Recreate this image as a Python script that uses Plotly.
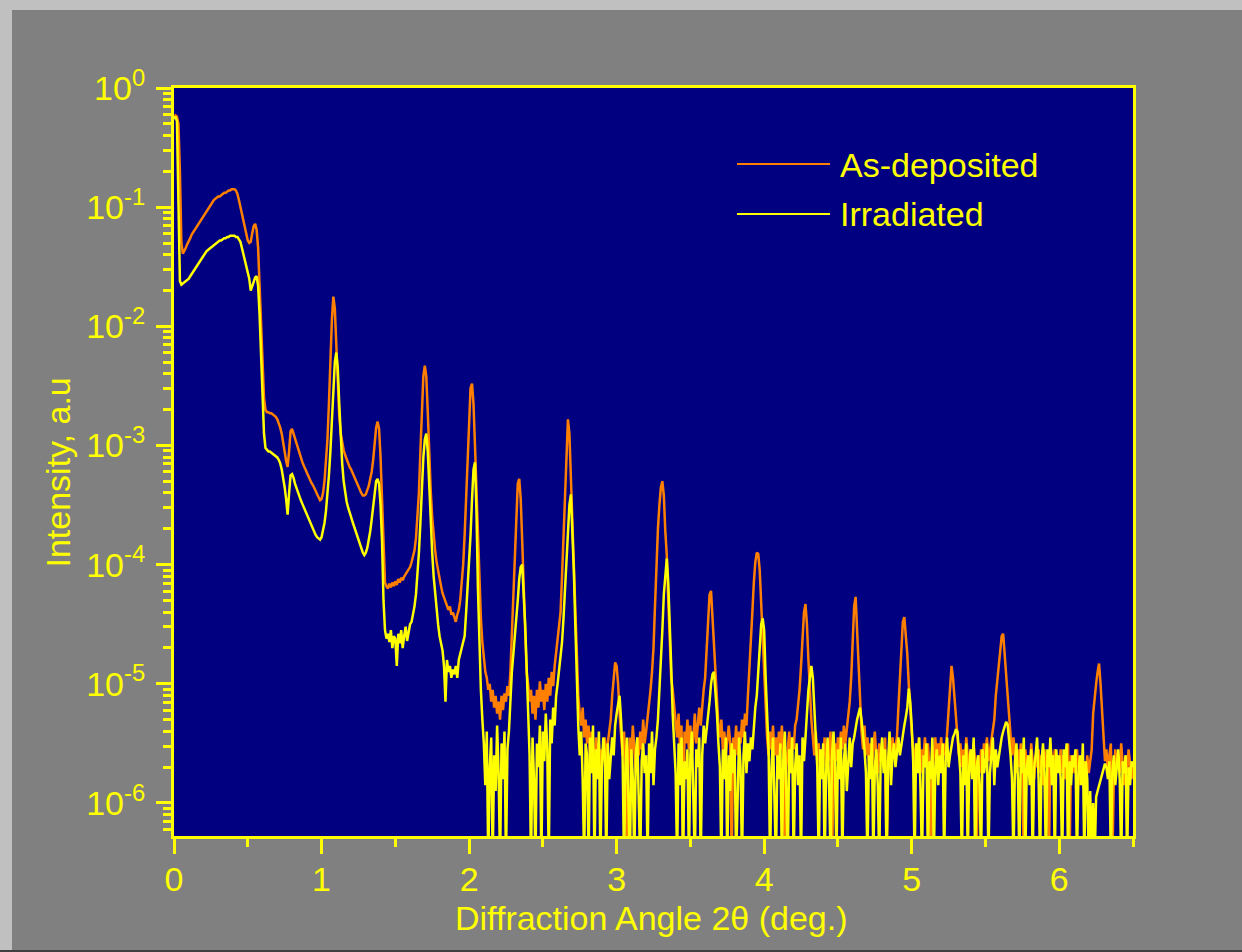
import numpy as np
import plotly.graph_objects as go

# Measurement grid (2-theta, degrees), 0.01 deg steps
two_theta = np.linspace(0.0, 6.5, 651)

# log10(intensity), one row per 0.1 deg
as_deposited_log10 = [
    -0.25, -0.23, -0.24, -0.30, -0.70, -1.30, -1.39, -1.37, -1.34, -1.31,
    -1.29, -1.26, -1.23, -1.21, -1.19, -1.17, -1.15, -1.13, -1.11, -1.09,
    -1.07, -1.05, -1.03, -1.01, -0.99, -0.97, -0.96, -0.94, -0.93, -0.92,
    -0.91, -0.91, -0.90, -0.89, -0.88, -0.88, -0.87, -0.86, -0.86, -0.85,
    -0.85, -0.85, -0.86, -0.89, -0.94, -1.00, -1.06, -1.11, -1.17, -1.22,
    -1.28, -1.30, -1.29, -1.22, -1.16, -1.14, -1.19, -1.34, -1.62, -1.95,
    -2.30, -2.60, -2.70, -2.72, -2.72, -2.73, -2.73, -2.74, -2.75, -2.76,
    -2.78, -2.81, -2.85, -2.90, -2.96, -3.05, -3.13, -3.18, -3.05, -2.88,
    -2.86, -2.90, -2.95, -2.99, -3.04, -3.08, -3.11, -3.14, -3.17, -3.20,
    -3.23, -3.26, -3.29, -3.31, -3.33, -3.35, -3.38, -3.41, -3.44, -3.46,
    -3.45, -3.40, -3.30, -3.15, -2.95, -2.65, -2.25, -1.95, -1.75, -1.85,
    -2.15, -2.50, -2.75, -2.90, -2.98, -3.04, -3.08, -3.12, -3.15, -3.18,
    -3.20, -3.23, -3.26, -3.29, -3.32, -3.35, -3.38, -3.40, -3.42, -3.42,
    -3.41, -3.38, -3.34, -3.28, -3.22, -3.12, -2.98, -2.85, -2.80, -2.86,
    -3.10, -3.50, -3.95, -4.15, -4.18, -4.20, -4.16, -4.19, -4.15, -4.18,
    -4.14, -4.17, -4.12, -4.15, -4.11, -4.13, -4.10, -4.08, -4.06, -4.04,
    -4.02, -3.98, -3.94, -3.88, -3.78, -3.62, -3.40, -3.05, -2.70, -2.42,
    -2.33, -2.42, -2.72, -3.08, -3.38, -3.60, -3.76, -3.88, -3.98, -4.06,
    -4.13, -4.18, -4.24, -4.28, -4.32, -4.36, -4.38, -4.35, -4.42, -4.40,
    -4.45, -4.48, -4.42, -4.38, -4.30, -4.18, -4.00, -3.75, -3.45, -3.05,
    -2.75, -2.52, -2.48, -2.65, -3.00, -3.40, -3.80, -4.15, -4.45, -4.65,
    -4.80, -4.90, -4.95, -5.05, -5.00, -5.15, -5.05, -5.20, -5.10, -5.25,
    -5.15, -5.30, -5.10, -5.22, -5.08, -5.15, -5.02, -5.10, -4.90, -4.60,
    -4.30, -3.90, -3.55, -3.32, -3.28, -3.45, -3.80, -4.20, -4.60, -4.90,
    -5.00, -5.15, -5.05, -5.25, -5.10, -5.30, -5.05, -5.20, -4.98, -5.15,
    -5.05, -5.22, -5.00, -5.15, -4.95, -5.10, -4.90, -5.02, -4.85, -4.75,
    -4.60, -4.50, -4.40, -4.10, -3.80, -3.40, -3.05, -2.78, -2.90, -3.30,
    -3.70, -4.10, -4.50, -4.90, -5.10, -5.25, -5.35, -5.20, -5.45, -5.30,
    -5.50, -5.35, -5.60, -5.40, -5.55, -5.70, -5.45, -5.60, -5.50, -5.75,
    -5.55, -5.65, -5.45, -5.70, -5.50, -5.40, -5.30, -5.10, -4.95, -4.82,
    -4.85, -5.00, -5.25, -5.45, -5.60, -5.40, -5.65, -6.50, -5.70, -5.45,
    -5.60, -5.35, -5.55, -5.75, -5.45, -5.60, -5.40, -5.55, -5.30, -5.50,
    -5.40, -5.30, -5.20, -5.05, -4.90, -4.70, -4.35, -3.95, -3.70, -3.50,
    -3.35, -3.30, -3.42, -3.72, -3.92, -4.30, -4.70, -4.95, -5.05, -5.20,
    -5.30, -5.45, -5.25, -5.55, -5.35, -6.50, -5.40, -5.50, -5.30, -5.55,
    -5.35, -5.60, -5.45, -5.25, -5.50, -5.30, -5.20, -5.35, -5.15, -5.05,
    -4.95, -4.75, -4.45, -4.25, -4.22, -4.45, -4.75, -5.00, -5.20, -5.35,
    -5.45, -5.30, -5.55, -5.40, -5.60, -5.45, -5.35, -5.50, -6.50, -5.45,
    -5.55, -5.35, -5.60, -5.40, -5.50, -5.30, -5.45, -5.25, -5.35, -5.10,
    -4.90, -4.65, -4.40, -4.15, -3.98, -3.90, -3.91, -4.05, -4.35, -4.70,
    -5.00, -5.30, -5.45, -5.60, -5.40, -5.55, -5.35, -5.60, -5.45, -5.65,
    -5.40, -5.55, -5.35, -5.60, -6.50, -5.70, -5.50, -5.40, -5.60, -5.45,
    -5.55, -5.35, -5.30, -5.20, -5.05, -4.85, -4.60, -4.40, -4.33, -4.50,
    -4.80, -5.10, -5.30, -5.45, -5.60, -5.40, -5.65, -5.50, -5.75, -5.55,
    -5.60, -5.45, -5.70, -5.50, -5.65, -5.40, -6.50, -5.75, -5.50, -5.65,
    -5.45, -5.60, -5.40, -5.55, -5.35, -5.50, -5.40, -5.30, -5.15, -4.95,
    -4.60, -4.35, -4.27, -4.55, -4.90, -5.20, -5.40, -5.55, -5.35, -5.60,
    -5.45, -5.65, -5.50, -5.70, -5.55, -5.40, -5.60, -5.75, -5.50, -5.65,
    -5.55, -5.70, -5.45, -6.50, -5.75, -5.50, -5.65, -5.45, -5.60, -5.50,
    -5.45, -5.20, -4.95, -4.65, -4.48, -4.44, -4.60, -4.75, -5.00, -5.25,
    -5.40, -5.55, -5.70, -5.50, -5.65, -5.45, -5.75, -5.55, -5.60, -5.45,
    -5.65, -5.50, -5.70, -6.50, -5.75, -5.60, -5.45, -5.65, -5.50, -5.60,
    -5.45, -5.65, -5.50, -5.60, -5.40, -5.15, -4.95, -4.85, -4.95, -5.10,
    -5.30, -5.45, -5.60, -5.50, -5.70, -5.55, -5.65, -5.45, -5.60, -5.75,
    -5.55, -5.70, -5.50, -5.65, -6.50, -5.60, -5.75, -5.55, -5.65, -5.50,
    -5.60, -5.45, -5.65, -5.55, -5.50, -5.40, -5.30, -5.10, -4.98, -4.85,
    -4.72, -4.60, -4.58, -4.75, -4.95, -5.15, -5.30, -5.50, -5.60, -5.45,
    -5.60, -5.75, -5.55, -5.70, -5.50, -5.65, -6.50, -5.55, -5.70, -5.60,
    -5.75, -5.50, -5.65, -5.80, -5.60, -5.70, -5.55, -5.75, -5.60, -5.85,
    -5.55, -5.70, -5.60, -6.50, -5.50, -5.65, -5.75, -5.55, -5.70, -5.60,
    -5.70, -5.55, -5.75, -5.60, -5.80, -5.65, -5.50, -6.50, -5.60, -5.75,
    -5.60, -5.75, -5.55, -5.70, -5.85, -5.60, -5.75, -5.65, -5.80, -5.60,
    -5.75, -5.65, -5.55, -5.25, -5.10, -5.00, -4.90, -4.83, -5.00, -5.25,
    -5.45, -5.65, -5.55, -5.75, -5.60, -5.50, -6.50, -5.80, -5.55, -5.70,
    -5.60, -5.75, -5.50, -5.70, -5.85, -5.60, -5.75, -5.55, -5.65, -5.80,
    -5.70,
]

irradiated_log10 = [
    -0.26, -0.24, -0.28, -1.00, -1.62, -1.65, -1.64, -1.63, -1.62, -1.61,
    -1.60, -1.58, -1.56, -1.54, -1.52, -1.50, -1.48, -1.46, -1.44, -1.42,
    -1.41, -1.39, -1.37, -1.36, -1.35, -1.34, -1.33, -1.32, -1.31, -1.30,
    -1.29, -1.28, -1.28, -1.27, -1.26, -1.26, -1.25, -1.25, -1.24, -1.24,
    -1.24, -1.24, -1.25, -1.25, -1.27, -1.29, -1.34, -1.39, -1.44, -1.49,
    -1.53, -1.60, -1.70, -1.66, -1.62, -1.59, -1.58, -1.66, -1.90, -2.30,
    -2.60, -2.90, -3.02, -3.04, -3.05, -3.05, -3.06, -3.07, -3.08, -3.09,
    -3.10, -3.12, -3.15, -3.20, -3.27, -3.35, -3.45, -3.58, -3.40, -3.25,
    -3.24, -3.27, -3.32, -3.36, -3.40, -3.43, -3.46, -3.49, -3.52, -3.55,
    -3.58, -3.60, -3.63, -3.66, -3.70, -3.72, -3.75, -3.77, -3.78, -3.79,
    -3.77, -3.72, -3.65, -3.55, -3.42, -3.25, -3.05, -2.80, -2.50, -2.30,
    -2.22, -2.35, -2.65, -2.95, -3.15, -3.30, -3.40, -3.47, -3.52, -3.57,
    -3.60, -3.64, -3.68, -3.72, -3.76, -3.80, -3.84, -3.87, -3.90, -3.92,
    -3.90, -3.86, -3.80, -3.72, -3.62, -3.50, -3.38, -3.30, -3.28, -3.32,
    -3.50, -3.80, -4.30, -4.55, -4.62, -4.58, -4.65, -4.55, -4.70, -4.60,
    -4.62, -4.85, -4.58, -4.66, -4.55, -4.70, -4.60, -4.52, -4.64, -4.55,
    -4.50, -4.48, -4.42, -4.35, -4.25, -4.10, -3.90, -3.65, -3.35, -3.10,
    -2.95, -2.90, -3.05, -3.35, -3.65, -3.90, -4.10, -4.25, -4.40, -4.50,
    -4.60, -4.65, -4.72, -4.85, -5.15, -4.80, -4.90, -4.85, -4.95, -4.88,
    -4.92, -4.85, -4.95, -4.80, -4.75, -4.70, -4.65, -4.60, -4.40, -4.20,
    -4.00, -3.75, -3.45, -3.20, -3.14, -3.55, -4.20, -4.65, -5.05, -5.30,
    -5.50, -5.85, -5.40, -6.50, -5.70, -5.45, -6.50, -5.60, -5.90, -5.35,
    -5.75, -6.50, -5.50, -5.80, -5.40, -6.50, -5.55, -5.40, -5.10, -4.90,
    -4.75, -4.62, -4.48, -4.30, -4.12, -4.02, -4.00, -4.20, -4.50, -4.85,
    -5.30, -5.60, -6.50, -5.45, -5.80, -6.50, -5.50, -5.70, -5.35, -6.50,
    -5.40, -5.65, -5.25, -5.55, -6.50, -5.30, -5.50, -5.20, -5.35, -5.10,
    -5.00, -4.90, -4.80, -4.65, -4.45, -4.20, -3.95, -3.70, -3.50, -3.41,
    -3.70, -4.05, -4.50, -5.00, -5.35, -5.60, -5.40, -5.80, -6.50, -5.50,
    -5.60, -6.50, -5.45, -5.75, -5.35, -6.50, -5.55, -5.80, -5.40, -6.50,
    -5.70, -5.45, -5.60, -6.50, -5.50, -5.80, -5.65, -5.45, -5.60, -5.35,
    -5.25, -5.15, -5.10, -5.30, -5.55, -6.50, -5.70, -5.45, -5.85, -6.50,
    -5.55, -5.80, -6.50, -5.60, -5.45, -5.90, -6.50, -5.65, -5.50, -5.75,
    -5.60, -6.50, -5.50, -5.75, -5.40, -5.85, -5.55, -5.45, -5.30, -5.05,
    -4.85, -4.55, -4.25, -4.05, -3.95, -4.15, -4.45, -4.85, -5.25, -5.55,
    -5.75, -6.50, -5.50, -5.85, -5.45, -6.50, -5.65, -5.80, -5.55, -6.50,
    -5.60, -5.40, -5.85, -6.50, -5.55, -5.70, -5.45, -6.50, -5.60, -5.35,
    -5.50, -5.40, -5.30, -5.15, -5.00, -4.92, -4.90, -5.05, -5.25, -5.50,
    -5.70, -6.50, -5.55, -5.80, -5.45, -6.50, -5.60, -5.90, -5.50, -5.75,
    -5.55, -6.50, -5.85, -5.45, -5.70, -6.50, -5.60, -5.40, -5.75, -5.50,
    -5.65, -5.45, -5.55, -5.35, -5.20, -5.10, -4.90, -4.65, -4.50, -4.45,
    -4.55, -4.95, -5.30, -5.55, -6.50, -5.70, -5.45, -5.85, -6.50, -5.60,
    -5.80, -5.50, -6.50, -5.65, -5.40, -5.90, -6.50, -5.55, -5.75, -5.45,
    -6.50, -5.70, -5.50, -5.85, -5.60, -6.50, -5.45, -5.65, -5.40, -5.25,
    -5.05, -4.95, -4.85, -4.95, -5.15, -5.45, -5.70, -6.50, -5.55, -5.80,
    -5.50, -6.50, -5.75, -5.45, -5.85, -6.50, -5.60, -5.40, -5.70, -6.50,
    -5.55, -5.80, -5.45, -6.50, -5.65, -5.50, -5.90, -5.60, -5.45, -5.70,
    -5.50, -5.45, -5.35, -5.30, -5.25, -5.20, -5.30, -5.40, -5.55, -5.75,
    -6.50, -5.60, -5.80, -5.45, -6.50, -5.70, -5.55, -5.85, -6.50, -5.60,
    -5.45, -5.75, -5.55, -6.50, -5.65, -5.40, -5.85, -5.60, -5.50, -5.70,
    -5.55, -5.45, -5.60, -5.50, -5.40, -5.35, -5.28, -5.20, -5.04, -5.15,
    -5.35, -5.65, -6.50, -5.50, -5.75, -5.45, -5.90, -6.50, -5.60, -5.70,
    -5.50, -6.50, -5.65, -5.80, -5.45, -6.50, -5.70, -5.55, -5.85, -5.60,
    -5.75, -5.50, -6.50, -5.65, -5.45, -5.70, -5.60, -5.50, -5.45, -5.42,
    -5.38, -5.40, -5.55, -5.75, -6.50, -5.60, -5.85, -5.50, -6.50, -5.70,
    -5.55, -5.80, -5.45, -6.50, -5.70, -5.60, -5.85, -6.50, -5.55, -5.75,
    -5.65, -5.50, -6.50, -5.75, -5.60, -5.45, -5.85, -5.55, -5.70, -5.60,
    -5.50, -5.45, -5.40, -5.35, -5.32, -5.34, -5.45, -5.60, -5.80, -6.50,
    -5.65, -5.50, -5.80, -6.50, -5.55, -5.75, -5.45, -6.50, -5.70, -5.60,
    -5.85, -5.55, -6.50, -5.70, -5.60, -5.45, -5.80, -6.50, -5.65, -5.50,
    -5.75, -6.50, -5.55, -5.70, -5.45, -5.85, -5.60, -6.50, -5.55, -5.75,
    -5.60, -5.80, -6.50, -5.55, -5.70, -5.50, -6.50, -5.65, -5.85, -5.60,
    -5.70, -5.55, -6.50, -5.75, -5.60, -5.85, -5.50, -6.50, -5.65, -5.80,
    -6.50, -5.90, -6.50, -6.00, -6.50, -5.95, -5.90, -5.85, -5.80, -5.75,
    -5.70, -5.67, -5.70, -5.80, -5.65, -6.50, -5.75, -5.60, -5.85, -5.70,
    -5.55, -5.80, -6.50, -5.65, -5.75, -5.60, -6.50, -5.70, -5.85, -5.65,
    -5.70,
]

assert len(as_deposited_log10) == len(two_theta)
assert len(irradiated_log10) == len(two_theta)

as_deposited = 10.0 ** np.array(as_deposited_log10)
irradiated = 10.0 ** np.array(irradiated_log10)

series_names = ["As-deposited", "Irradiated"]
series_colors = ["#FF8000", "#FFFF00"]

x_tick_vals = [0, 1, 2, 3, 4, 5, 6]
x_minor_vals = [0.5, 1.5, 2.5, 3.5, 4.5, 5.5, 6.5]
y_tick_vals = [1e-6, 1e-5, 1e-4, 1e-3, 1e-2, 1e-1, 1e0]
y_tick_text = ["10<sup>-6</sup>", "10<sup>-5</sup>", "10<sup>-4</sup>",
               "10<sup>-3</sup>", "10<sup>-2</sup>", "10<sup>-1</sup>",
               "10<sup>0</sup>"]
y_minor_vals = [m * 10.0 ** e for e in range(-7, 0) for m in range(2, 10)]

YEL = "#FFFF00"
FONT = "Liberation Sans, Arial, sans-serif"

fig = go.Figure()
for name, yv, col in [(series_names[0], as_deposited, series_colors[0]),
                      (series_names[1], irradiated, series_colors[1])]:
    fig.add_trace(go.Scatter(x=two_theta, y=yv, mode="lines", name=name,
                             line=dict(color=col, width=2.5), showlegend=False))

L, R, T, B = 174, 109, 88, 116
W, H = 1242, 952
pw, ph = W - L - R, H - T - B


def px(xp):
    return (xp - L) / pw


def py(yp):
    return (H - B - yp) / ph


shapes = [
    # window frame
    dict(type="rect", xref="paper", yref="paper", x0=px(0), x1=px(W), y0=py(0), y1=py(10),
         fillcolor="#C0C0C0", line=dict(width=0), layer="above"),
    dict(type="rect", xref="paper", yref="paper", x0=px(0), x1=px(12), y0=py(0), y1=py(H),
         fillcolor="#C0C0C0", line=dict(width=0), layer="above"),
    dict(type="rect", xref="paper", yref="paper", x0=px(0), x1=px(W), y0=py(950), y1=py(H),
         fillcolor="#404040", line=dict(width=0), layer="above"),
]
# legend samples
legend_rows = [164, 214]
for col, yy in zip(series_colors, legend_rows):
    shapes.append(dict(type="line", xref="paper", yref="paper",
                       x0=px(737), x1=px(830), y0=py(yy), y1=py(yy),
                       line=dict(color=col, width=2)))

annotations = []
for name, yy in zip(series_names, [165, 214]):
    annotations.append(dict(text=name, xref="paper", yref="paper", x=px(838), y=py(yy),
                            xanchor="left", yanchor="middle", showarrow=False,
                            font=dict(family=FONT, size=34, color=YEL)))
annotations.append(dict(text="Diffraction Angle 2\u03b8 (deg.)", xref="paper", yref="paper",
                        x=px(651.5), y=py(918), xanchor="center", yanchor="middle",
                        showarrow=False, font=dict(family=FONT, size=34, color=YEL)))
annotations.append(dict(text="Intensity, a.u", xref="paper", yref="paper",
                        x=px(57.5), y=py(473), xanchor="center", yanchor="middle",
                        textangle=-90, showarrow=False,
                        font=dict(family=FONT, size=34, color=YEL)))

fig.update_layout(
    width=W, height=H,
    margin=dict(l=L, r=R, t=T, b=B, pad=0),
    paper_bgcolor="#808080",
    plot_bgcolor="#000080",
    showlegend=False,
    font=dict(family=FONT, size=34, color=YEL),
    shapes=shapes,
    annotations=annotations,
    xaxis=dict(
        range=[0, 6.5], tickmode="array", tickvals=x_tick_vals,
        ticks="outside", ticklen=15, tickwidth=3, tickcolor=YEL,
        showline=True, linewidth=3, linecolor=YEL, mirror=True,
        showgrid=False, zeroline=False,
        tickfont=dict(family=FONT, size=34, color=YEL),
        ticklabelstandoff=-4,
        minor=dict(tickmode="array", tickvals=x_minor_vals, ticks="outside",
                   ticklen=8, tickwidth=3, tickcolor=YEL, showgrid=False),
    ),
    yaxis=dict(
        type="log", range=[-6.277, 0], tickmode="array",
        tickvals=y_tick_vals, ticktext=y_tick_text,
        ticks="outside", ticklen=15, tickwidth=3, tickcolor=YEL,
        showline=True, linewidth=3, linecolor=YEL, mirror=True,
        showgrid=False, zeroline=False,
        tickfont=dict(family=FONT, size=34, color=YEL),
        ticklabelstandoff=4,
        minor=dict(tickmode="array", tickvals=y_minor_vals, ticks="outside",
                   ticklen=8, tickwidth=3, tickcolor=YEL, showgrid=False),
    ),
)

fig.write_html(
    "out.html",
    config={"displayModeBar": False},
    post_script="document.body.style.margin='0';document.body.style.overflow='hidden';",
)
